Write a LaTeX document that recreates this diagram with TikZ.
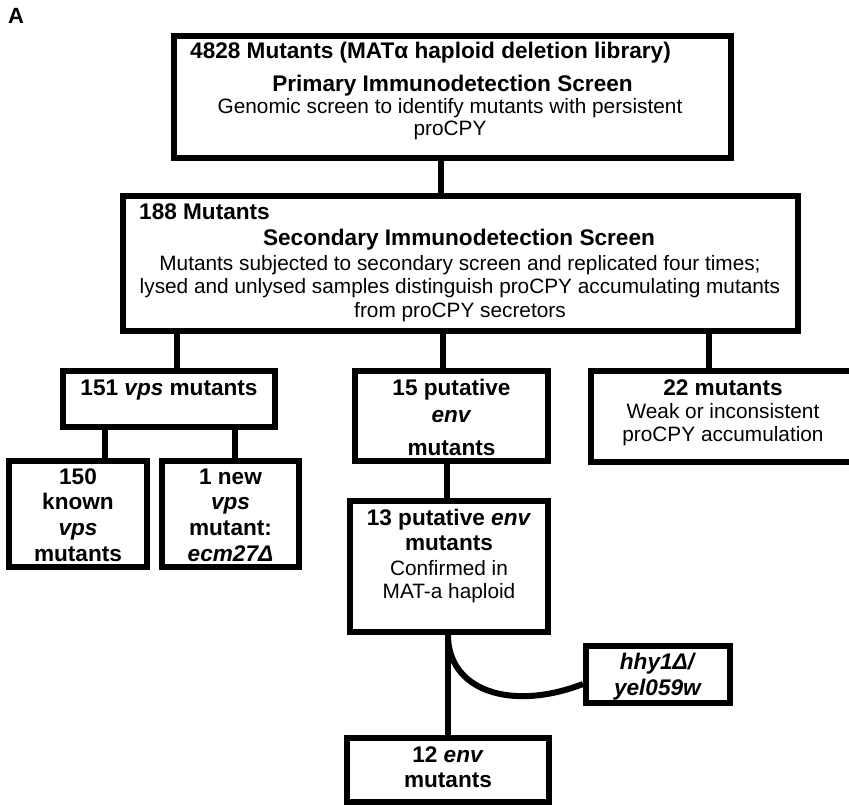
\documentclass[tikz,border=0pt]{standalone}
\usepackage{fontspec}
\setmainfont{Liberation Sans}
\begin{document}
\begin{tikzpicture}[x=1pt,y=-1pt,
  box/.style={draw=black,line width=6pt,rectangle,inner sep=0pt,fill=white},
  conn/.style={draw=black,line width=6pt},
  rtxt/.style={font=\fontsize{20.8}{23}\selectfont,anchor=base,inner sep=0pt},
  btxt/.style={font=\fontsize{22.6}{25.5}\selectfont\bfseries,anchor=base,inner sep=0pt}]
\useasboundingbox (0,0) rectangle (849,805);
% boxes
\node[box,minimum width=557pt,minimum height=122pt] (b1) at (452.5,97) {};
\node[box,minimum width=675pt,minimum height=135pt] (b2) at (460.5,263.5) {};
\node[box,minimum width=212pt,minimum height=56pt] (b151) at (169,399) {};
\node[box,minimum width=193pt,minimum height=90pt] (b15) at (451.5,416) {};
\node[box,minimum width=264pt,minimum height=91pt] (b22) at (723,416.5) {};
\node[box,minimum width=138pt,minimum height=106pt] (b150) at (78,514) {};
\node[box,minimum width=137pt,minimum height=106pt] (bnew) at (230.5,514) {};
\node[box,minimum width=198pt,minimum height=131pt] (b13) at (449,566.5) {};
\node[box,minimum width=144pt,minimum height=57pt] (bhhy) at (658,674.5) {};
\node[box,minimum width=202pt,minimum height=64pt] (b12) at (448,770) {};
% connectors
\draw[conn] (b1.south -| 441,0) -- (b2.north -| 441,0);
\draw[conn] (b2.south -| 177,0) -- (b151.north -| 177,0);
\draw[conn] (b2.south -| 443,0) -- (b15.north -| 443,0);
\draw[conn] (b2.south -| 709,0) -- (b22.north -| 709,0);
\draw[conn] (b151.south -| 104.5,0) -- (b150.north -| 104.5,0);
\draw[conn] (b151.south -| 234.5,0) -- (bnew.north -| 234.5,0);
\draw[conn] (b15.south -| 447,0) -- (b13.north -| 447,0);
\draw[conn] (b13.south -| 448,0) -- (b12.north -| 448,0);
\draw[conn] (b13.south -| 448,0) .. controls (448,690) and (510,712) .. (bhhy.west |- 0,684);
% label
\node[btxt,anchor=base west,font=\fontsize{22}{24}\selectfont\bfseries] (lA) at (8,24) {A};
% box 1 text
\node[btxt,anchor=base west] (t1a) at (190,59) {4828 Mutants (MATα haploid deletion library)};
\node[btxt] (t1b) at (452.5,92) {Primary Immunodetection Screen};
\node[rtxt] (t1c) at (450,114) {Genomic screen to identify mutants with persistent};
\node[rtxt] (t1d) at (450,136) {proCPY};
% box 2 text
\node[btxt,anchor=base west] (t2a) at (139,220) {188 Mutants};
\node[btxt] (t2b) at (459,246) {Secondary Immunodetection Screen};
\node[rtxt] (t2c) at (460,270) {Mutants subjected to secondary screen and replicated four times;};
\node[rtxt] (t2d) at (460,293) {lysed and unlysed samples distinguish proCPY accumulating mutants};
\node[rtxt] (t2e) at (460,317) {from proCPY secretors};
% 151
\node[btxt] (t3) at (169,395) {151 \textit{vps} mutants};
% 15
\node[btxt] (t4a) at (451.5,395) {15 putative};
\node[btxt] (t4b) at (451.5,422) {\textit{env}};
\node[btxt] (t4c) at (451.5,455) {mutants};
% 22
\node[btxt] (t5a) at (723,395) {22 mutants};
\node[rtxt] (t5b) at (723,418) {Weak or inconsistent};
\node[rtxt] (t5c) at (723,441) {proCPY accumulation};
% 150
\node[btxt] (t6a) at (78,484) {150};
\node[btxt] (t6b) at (78,509) {known};
\node[btxt] (t6c) at (78,535) {\textit{vps}};
\node[btxt] (t6d) at (78,561) {mutants};
% 1 new
\node[btxt] (t7a) at (230.5,484) {1 new};
\node[btxt] (t7b) at (230.5,509) {\textit{vps}};
\node[btxt] (t7c) at (230.5,535) {mutant:};
\node[btxt] (t7d) at (230.5,561) {\textit{ecm27Δ}};
% 13
\node[btxt] (t8a) at (449,525) {13 putative \textit{env}};
\node[btxt] (t8b) at (449,550) {mutants};
\node[rtxt] (t8c) at (449,575) {Confirmed in};
\node[rtxt] (t8d) at (449,598) {MAT-a haploid};
% hhy
\node[btxt] (t9a) at (658,669) {\textit{hhy1Δ/}};
\node[btxt] (t9b) at (658,695) {\textit{yel059w}};
% 12
\node[btxt] (t10a) at (448,762) {12 \textit{env}};
\node[btxt] (t10b) at (448,787) {mutants};
\end{tikzpicture}
\end{document}
